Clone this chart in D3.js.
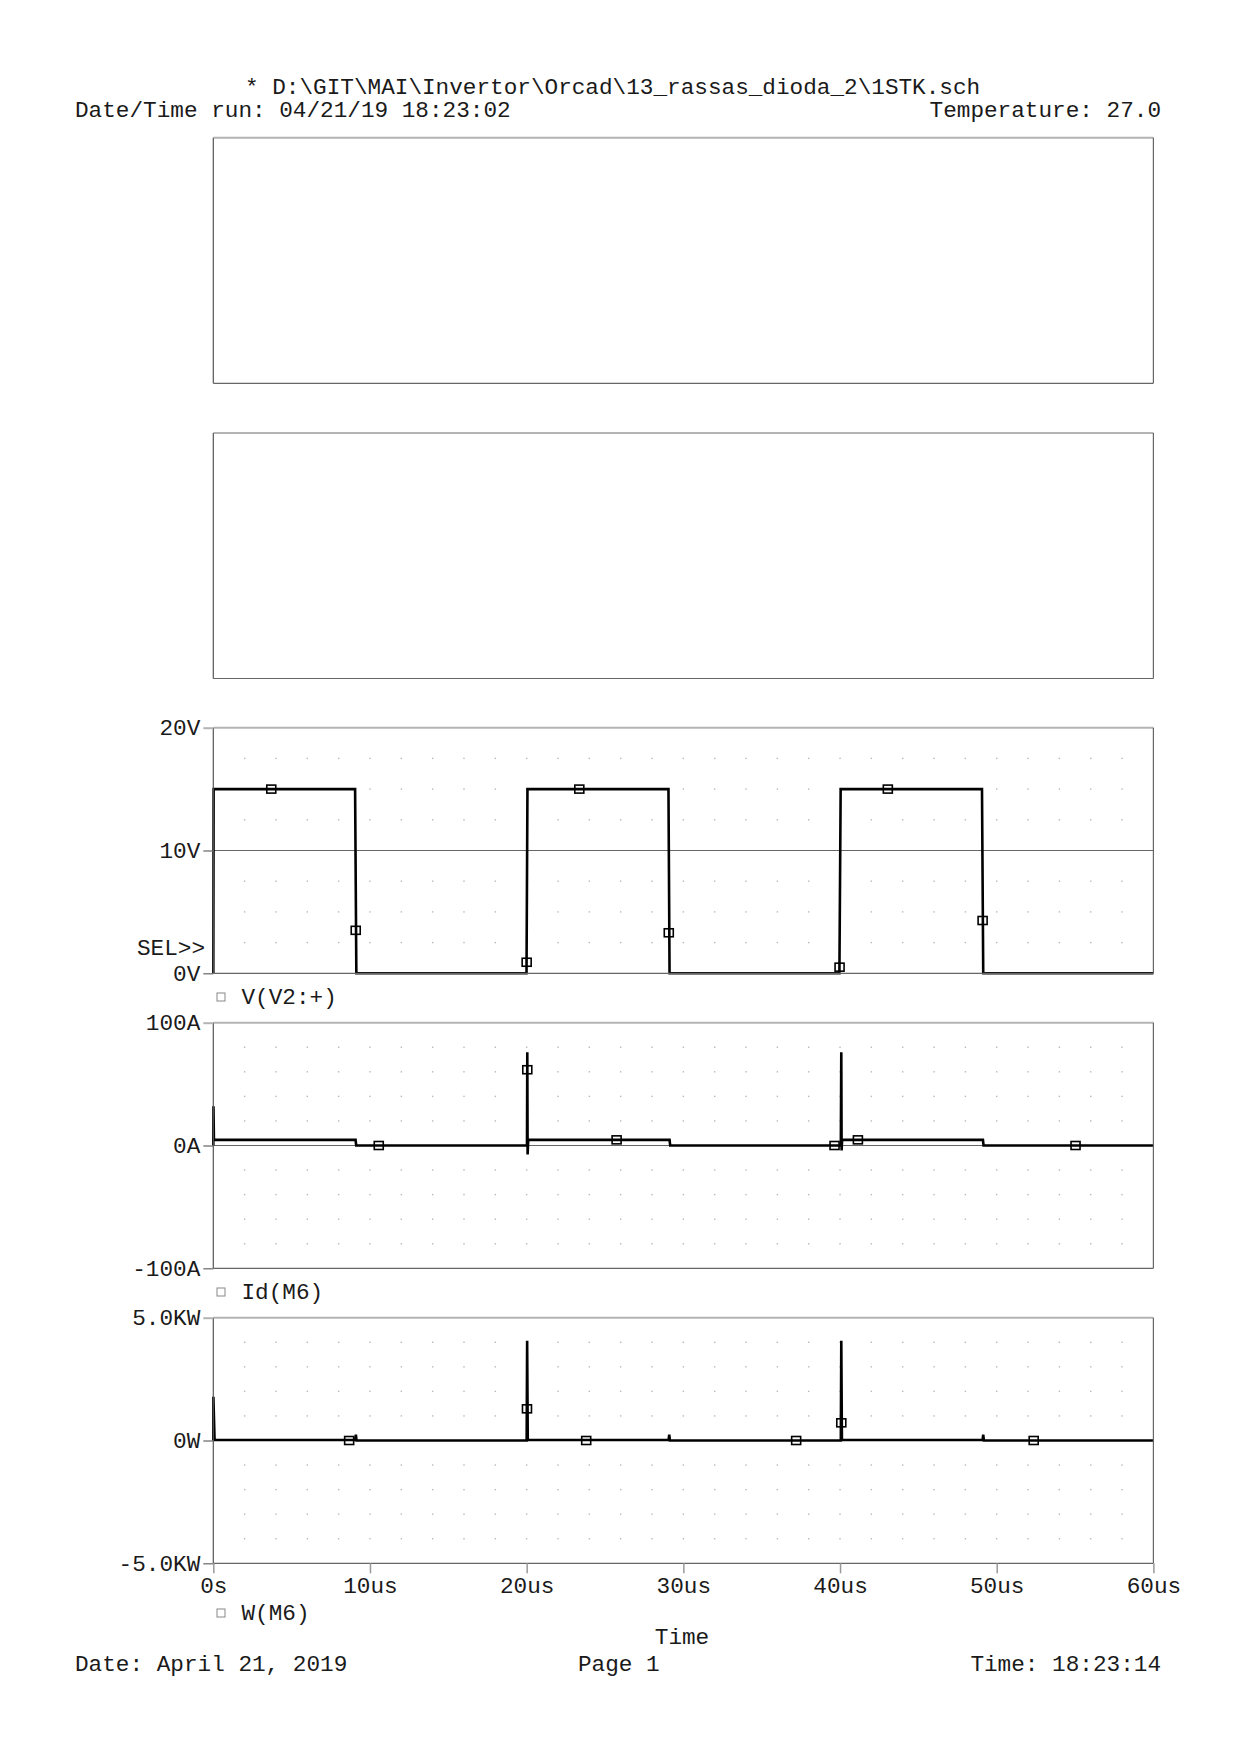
<!DOCTYPE html>
<html>
<head>
<meta charset="utf-8">
<script src="https://cdn.jsdelivr.net/npm/d3@7"></script>
<style>
  body { margin: 0; background: #fff; }
  svg text { font-family: "Liberation Mono", "Courier New", monospace; font-size: 22.7px; fill: #1a1a1a; }
</style>
</head>
<body>
<div id="chart"></div>
<script>
// time axis (us)
var timeTicks = [0, 10, 20, 30, 40, 50, 60];
var timeLabels = ["0s", "10us", "20us", "30us", "40us", "50us", "60us"];

// V(V2:+) : time (us) / volts
var vTime  = [0, 0.02, 9.05, 9.13, 19.99, 20.05, 29.05, 29.12, 39.96, 40.04, 49.06, 49.14, 60];
var vVolts = [0, 15,   15,   0,    0,     15,    15,    0,     0,     15,    15,    0,     0];
var vMarkers = [[3.7, 15], [9.09, 3.5], [20.0, 0.9], [23.36, 15], [29.07, 3.3], [39.97, 0.5], [43.05, 15], [49.1, 4.3]];
var vTicks = [0, 10, 20];
var vLabels = ["0V", "10V", "20V"];

// Id(M6) : time (us) / amps
var iTime = [0, 0.01, 0.04, 9.08, 9.12, 20.02, 20.04, 20.06, 20.1, 29.12, 29.16, 40.05, 40.08, 40.1, 40.13, 49.12, 49.16, 60];
var iAmps = [0, 32,   4.6,  4.6,  0,    0,     76,    -7.3,  4.6,  4.6,   0,     0,     76,    -4,    4.6,   4.6,   0,     0];
var iMarkers = [[10.56, 0], [20.04, 61.7], [25.74, 4.6], [39.65, 0], [41.14, 4.6], [55.03, 0]];
var iTicks = [-100, 0, 100];
var iLabels = ["-100A", "0A", "100A"];

// W(M6) : time (us) / kW
var wTime = [0, 0.005, 0.08, 9.06, 9.1, 9.14, 20.0, 20.03, 20.07, 29.06, 29.1, 29.14, 40.05, 40.08, 40.12, 49.1, 49.14, 49.18, 60];
var wKW   = [0, 1.78,  0.02, 0.02, 0.24, 0,   0,    4.06,  0.02,  0.02,  0.24, 0,     0,     4.06,  0.02,  0.02,  0.24,  0,     0];
var wMarkers = [[8.67, 0], [20.02, 1.29], [23.8, 0], [37.2, 0], [40.08, 0.72], [52.36, 0]];
var wTicks = [-5, 0, 5];
var wLabels = ["-5.0KW", "0W", "5.0KW"];

var left = 213.3, right = 1153.4, panelH = 245.6;
var panelTops = [137.7, 432.9, 727.7, 1022.7, 1317.7];

var svg = d3.select("#chart").append("svg")
  .attr("width", 1240)
  .attr("height", 1754);

var x = d3.scaleLinear().domain([0, 60]).range([left, right]);

// header
svg.append("text").attr("x", 245).attr("y", 93.5)
  .text("* D:\\GIT\\MAI\\Invertor\\Orcad\\13_rassas_dioda_2\\1STK.sch");
svg.append("text").attr("x", 75).attr("y", 117).text("Date/Time run: 04/21/19 18:23:02");
svg.append("text").attr("x", 1161).attr("y", 117).attr("text-anchor", "end").text("Temperature: 27.0");

function drawFrame(top) {
  var g = svg.append("g");
  var bottom = top + panelH;
  g.append("line").attr("x1", left).attr("x2", right).attr("y1", top).attr("y2", top)
    .attr("stroke", "#b4b4b4").attr("stroke-width", 2);
  g.append("line").attr("x1", left).attr("x2", right).attr("y1", bottom).attr("y2", bottom)
    .attr("stroke", "#666").attr("stroke-width", 1.2);
  g.append("line").attr("x1", left).attr("x2", left).attr("y1", top).attr("y2", bottom)
    .attr("stroke", "#555").attr("stroke-width", 1.2);
  g.append("line").attr("x1", right).attr("x2", right).attr("y1", top).attr("y2", bottom)
    .attr("stroke", "#666").attr("stroke-width", 1.2);
}

// two empty plot windows
drawFrame(panelTops[0]);
drawFrame(panelTops[1]);

var plots = [
  { top: panelTops[2], domain: [0, 20], ticks: vTicks, labels: vLabels, dots: [2.5, 5, 7.5, 12.5, 15, 17.5],
    time: vTime, vals: vVolts, markers: vMarkers, legend: "V(V2:+)" },
  { top: panelTops[3], domain: [-100, 100], ticks: iTicks, labels: iLabels, dots: [-80, -60, -40, -20, 20, 40, 60, 80],
    time: iTime, vals: iAmps, markers: iMarkers, legend: "Id(M6)" },
  { top: panelTops[4], domain: [-5, 5], ticks: wTicks, labels: wLabels, dots: [-4, -3, -2, -1, 1, 2, 3, 4],
    time: wTime, vals: wKW, markers: wMarkers, legend: "W(M6)" }
];

var timeDots = d3.range(2, 60, 2);

plots.forEach(function(p) {
  var y = d3.scaleLinear().domain(p.domain).range([p.top + panelH, p.top]);
  var g = svg.append("g");

  // dotted minor grid
  timeDots.forEach(function(t) {
    p.dots.forEach(function(v) {
      g.append("rect").attr("x", x(t) - 0.7).attr("y", y(v) - 0.7)
        .attr("width", 1.4).attr("height", 1.4).attr("fill", "#b8b8b8");
    });
  });

  drawFrame(p.top);

  // middle grid line
  g.append("line").attr("x1", left).attr("x2", right)
    .attr("y1", y(p.ticks[1])).attr("y2", y(p.ticks[1]))
    .attr("stroke", "#666").attr("stroke-width", 1.2);

  // y axis labels + ticks
  var yAxis = d3.axisLeft(y)
    .tickValues(p.ticks)
    .tickFormat(function(d, i) { return p.labels[i]; })
    .tickSize(10)
    .tickPadding(3);
  var ax = svg.append("g").attr("transform", "translate(" + left + ",0)").call(yAxis);
  ax.select(".domain").remove();
  ax.selectAll(".tick line")
    .attr("stroke", function(d) { return d === p.domain[1] ? "#b4b4b4" : "#666"; })
    .attr("stroke-width", function(d) { return d === p.domain[1] ? 2 : 1.2; });
  ax.selectAll(".tick text").attr("dy", "0.3em");
  ax.attr("font-family", null).attr("font-size", null);

  // trace
  var line = d3.line()
    .x(function(d) { return x(d[0]); })
    .y(function(d) { return y(d[1]); });
  g.append("path")
    .datum(d3.zip(p.time, p.vals))
    .attr("d", line)
    .attr("fill", "none")
    .attr("stroke", "#000")
    .attr("stroke-width", 2.6);

  // trace markers
  g.selectAll(null)
    .data(p.markers)
    .enter()
    .append("rect")
      .attr("x", function(d) { return x(d[0]) - 4.5; })
      .attr("y", function(d) { return y(d[1]) - 4; })
      .attr("width", 9)
      .attr("height", 8)
      .attr("fill", "none")
      .attr("stroke", "#000")
      .attr("stroke-width", 1.6);
});

// legends under each plot
var legendY = [1004, 1299, 1620];
plots.forEach(function(p, i) {
  svg.append("rect").attr("x", 217).attr("y", legendY[i] - 11).attr("width", 8).attr("height", 8)
    .attr("fill", "none").attr("stroke", "#888").attr("stroke-width", 1);
  svg.append("text").attr("x", 241.5).attr("y", legendY[i]).text(p.legend);
});

svg.append("text").attr("x", 205).attr("y", 955).attr("text-anchor", "end").text("SEL>>");

// time axis
var xAxis = d3.axisBottom(x)
  .tickValues(timeTicks)
  .tickFormat(function(d, i) { return timeLabels[i]; })
  .tickSize(10)
  .tickPadding(4);
var xa = svg.append("g").attr("transform", "translate(0," + (panelTops[4] + panelH) + ")").call(xAxis);
xa.select(".domain").remove();
xa.selectAll(".tick line").attr("stroke", "#999").attr("stroke-width", 1.5);
xa.attr("font-family", null).attr("font-size", null);

svg.append("text").attr("x", 682).attr("y", 1644).attr("text-anchor", "middle").text("Time");

// footer
svg.append("text").attr("x", 75).attr("y", 1671).text("Date: April 21, 2019");
svg.append("text").attr("x", 578).attr("y", 1671).text("Page 1");
svg.append("text").attr("x", 1161).attr("y", 1671).attr("text-anchor", "end").text("Time: 18:23:14");
</script>
</body>
</html>
